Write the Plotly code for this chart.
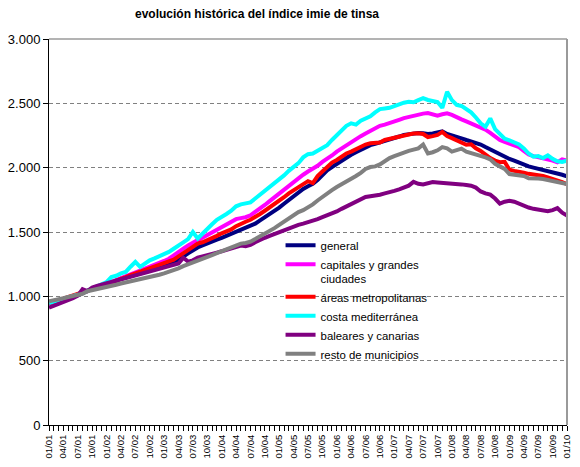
import plotly.graph_objects as go

tick_labels = ["01/01","04/01","07/01","10/01","01/02","04/02","07/02","10/02",
               "01/03","04/03","07/03","10/03","01/04","04/04","07/04","10/04",
               "01/05","04/05","07/05","10/05","01/06","04/06","07/06","10/06",
               "01/07","04/07","07/07","10/07","01/08","04/08","07/08","10/08",
               "01/09","04/09","07/09","10/09","01/10"]

general = [945,955,965,975,990,1000,1010,1025,1045,1060,1065,1075,1085,1098,1120,1137,1145,1155,1165,1180,
           1190,1202,1212,1222,1232,1245,1265,1290,1310,1335,1360,1380,1395,1408,1420,1440,1455,1470,1485,1500,
           1515,1530,1545,1565,1590,1615,1640,1660,1690,1720,1750,1780,1805,1835,1855,1875,1905,1945,1980,2005,
           2030,2055,2080,2100,2120,2140,2160,2175,2185,2195,2210,2222,2232,2242,2255,2262,2268,2270,2268,2262,
           2265,2270,2282,2262,2248,2238,2228,2215,2205,2192,2180,2160,2140,2120,2105,2085,2068,2055,2038,2025,
           2010,2000,1992,1980,1970,1962,1952,1945,1932]

capitales = [945,955,967,978,992,1003,1015,1030,1048,1062,1075,1088,1100,1112,1128,1140,1155,1172,1190,1200,
             1215,1228,1243,1258,1275,1292,1315,1345,1370,1395,1420,1437,1455,1475,1495,1518,1540,1560,1580,1600,
             1608,1615,1630,1655,1680,1710,1740,1770,1800,1830,1862,1895,1920,1945,1970,1990,2015,2045,2068,2095,
             2125,2150,2178,2200,2222,2245,2265,2285,2305,2325,2335,2345,2358,2372,2385,2395,2405,2415,2420,2425,
             2412,2405,2415,2422,2410,2390,2375,2360,2345,2330,2315,2295,2270,2240,2215,2200,2188,2175,2160,2130,
             2102,2090,2082,2075,2065,2055,2042,2065,2055]

areas = [945,958,968,980,995,1005,1015,1030,1045,1060,1068,1080,1090,1100,1122,1140,1150,1165,1178,1190,
         1203,1215,1228,1240,1252,1265,1285,1310,1335,1360,1390,1410,1420,1435,1450,1470,1490,1505,1520,1545,
         1565,1580,1595,1615,1640,1665,1690,1715,1745,1770,1800,1825,1850,1875,1895,1880,1935,1970,2010,2040,
         2060,2085,2110,2125,2145,2160,2180,2190,2192,2195,2215,2225,2235,2242,2250,2258,2265,2268,2262,2238,
         2245,2255,2278,2245,2230,2215,2200,2178,2182,2150,2130,2100,2075,2055,2042,2045,1985,1975,1970,1960,
         1952,1948,1943,1935,1925,1915,1900,1888,1872]

costa = [948,958,968,978,990,1002,1012,1028,1045,1062,1075,1088,1110,1150,1160,1178,1190,1230,1267,1228,
         1258,1280,1295,1310,1328,1345,1370,1400,1420,1445,1500,1450,1490,1520,1560,1595,1615,1640,1665,1700,
         1715,1720,1730,1760,1790,1820,1845,1875,1905,1940,1975,2005,2035,2080,2105,2110,2130,2150,2175,2215,
         2255,2290,2325,2345,2335,2365,2385,2400,2430,2455,2460,2465,2478,2495,2505,2512,2508,2525,2540,2526,
         2520,2510,2465,2590,2525,2487,2480,2450,2430,2390,2345,2318,2383,2300,2260,2225,2212,2200,2180,2150,
         2110,2085,2090,2075,2095,2068,2050,2045,2055]

baleares = [912,925,940,955,970,985,1005,1055,1040,1068,1080,1090,1100,1110,1120,1130,1142,1155,1165,1170,
            1180,1190,1200,1210,1218,1228,1240,1255,1300,1270,1280,1300,1310,1318,1328,1340,1350,1362,1375,1390,
            1395,1390,1400,1420,1440,1455,1470,1485,1500,1515,1530,1545,1555,1565,1575,1585,1600,1615,1630,1640,
            1660,1680,1700,1720,1740,1760,1772,1778,1782,1790,1800,1808,1820,1832,1848,1860,1890,1875,1870,1880,
            1888,1885,1882,1885,1880,1875,1870,1865,1860,1845,1815,1800,1790,1760,1720,1735,1742,1735,1718,1700,
            1690,1680,1672,1665,1662,1670,1685,1650,1628]

resto = [962,968,975,985,995,1005,1012,1020,1040,1048,1055,1062,1068,1075,1090,1100,1108,1118,1125,1130,
         1140,1150,1160,1168,1178,1190,1202,1218,1235,1248,1262,1278,1290,1305,1320,1335,1350,1365,1385,1400,
         1410,1415,1425,1445,1465,1485,1510,1530,1555,1580,1605,1630,1655,1670,1690,1715,1745,1775,1800,1825,
         1850,1870,1895,1915,1935,1960,1990,2005,2010,2025,2050,2075,2090,2105,2115,2130,2140,2150,2180,2110,
         2120,2135,2160,2150,2125,2135,2148,2125,2115,2105,2095,2080,2065,2030,2010,1990,1950,1945,1942,1935,
         1918,1920,1915,1912,1905,1900,1890,1882,1872]

series_names = ["general", "capitales y grandes<br>ciudades", "áreas metropolitanas",
                "costa mediterránea", "baleares y canarias", "resto de municipios"]
series_values = [general, capitales, areas, costa, baleares, resto]
series_colors = ["#000080", "#FF00FF", "#FF0000", "#00FFFF", "#800080", "#808080"]

n = len(general)
months = list(range(n))
tick_positions = list(range(0, n, 3))

fig = go.Figure()
for name, vals, col in zip(series_names, series_values, series_colors):
    fig.add_trace(go.Scatter(x=months, y=vals, mode="lines", name=name,
                             line=dict(color=col, width=4)))

font_family = "Liberation Sans, Arial, sans-serif"
fig.update_layout(
    width=580, height=467,
    margin=dict(l=49, r=13, t=39, b=42, autoexpand=False),
    paper_bgcolor="white", plot_bgcolor="white",
    separators=",.",
    font=dict(family=font_family, color="black", size=12),
    title=dict(text="<b>evolución histórica del índice imie de tinsa</b>",
               x=257/580, xref="container", xanchor="center",
               y=1-14/467, yref="container", yanchor="middle",
               font=dict(size=12, family=font_family, color="black")),
    showlegend=True,
    legend=dict(x=0.447, y=0.502, xanchor="left", yanchor="top",
                bgcolor="rgba(0,0,0,0)", borderwidth=0,
                font=dict(size=11.4, family=font_family, color="black"),
                valign="top", itemwidth=30),
    xaxis=dict(range=[0, n-1], tickmode="array", tickvals=tick_positions, ticktext=tick_labels,
               tickangle=-90, ticks="outside", ticklen=5, tickcolor="black",
               tickfont=dict(size=9.5, family=font_family), automargin=False,
               showline=True, linecolor="black", linewidth=1, showgrid=False, zeroline=False,
               minor=dict(tickmode="linear", tick0=0, dtick=1, ticks="outside", ticklen=5,
                          tickcolor="black", showgrid=False)),
    yaxis=dict(range=[0, 3000], tickmode="linear", tick0=0, dtick=500, tickformat=",.0f",
               ticks="outside", ticklen=5, tickcolor="black",
               tickfont=dict(size=13, family=font_family), automargin=False,
               showline=True, linecolor="black", linewidth=1,
               showgrid=True, gridcolor="#808080", gridwidth=1, griddash="4px,3px",
               zeroline=False),
)
fig.add_shape(type="line", xref="paper", yref="paper", x0=0, x1=1, y0=1, y1=1,
              line=dict(color="#9a9a9a", width=1.5))
fig.add_shape(type="line", xref="paper", yref="paper", x0=1, x1=1, y0=0, y1=1,
              line=dict(color="#9a9a9a", width=2))

fig.write_html("out.html", config={"displayModeBar": False},
               post_script="document.body.style.margin='0';document.body.style.padding='0';")
